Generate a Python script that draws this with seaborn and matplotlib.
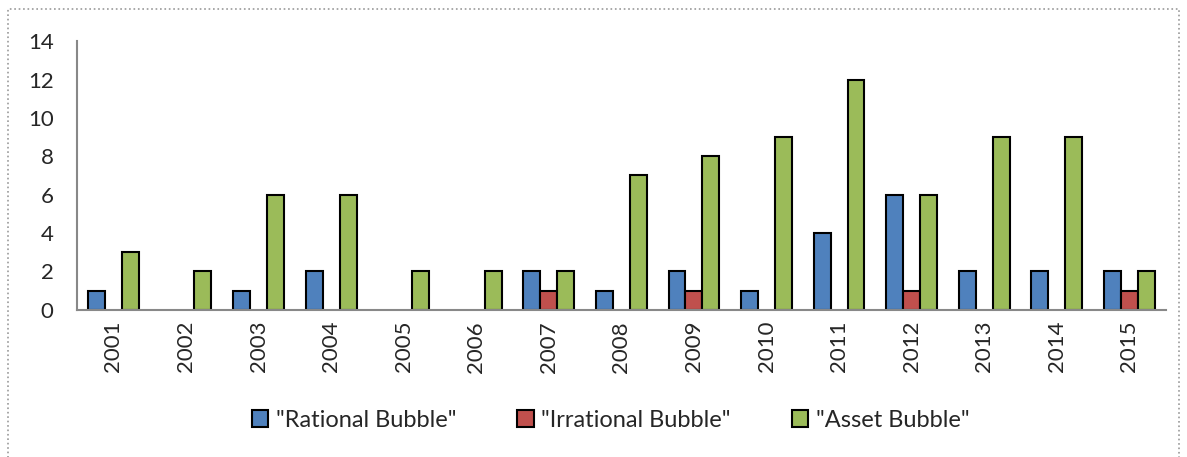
# Grouped bar chart of bubble counts per year.

import seaborn as sns
import matplotlib.pyplot as plt
import pandas as pd
import numpy as np
from matplotlib.patches import Rectangle

years = ['2001', '2002', '2003', '2004', '2005', '2006', '2007', '2008',
         '2009', '2010', '2011', '2012', '2013', '2014', '2015']
rational = [1, 0, 1, 2, 0, 0, 2, 1, 2, 1, 4, 6, 2, 2, 2]
irrational = [0, 0, 0, 0, 0, 0, 1, 0, 1, 0, 0, 1, 0, 0, 1]
asset = [3, 2, 6, 6, 2, 2, 2, 7, 8, 9, 12, 6, 9, 9, 2]
series = ['"Rational Bubble"', '"Irrational Bubble"', '"Asset Bubble"']
colors = ['#4F81BD', '#C0504D', '#9BBB59']

rows = []
for name, vals in zip(series, [rational, irrational, asset]):
    for y, v in zip(years, vals):
        rows.append({'Year': y, 'Series': name, 'Count': v if v else np.nan})
df = pd.DataFrame(rows)

sns.set_style('white')
plt.rcParams['font.family'] = ['Lato', 'DejaVu Sans']

fig = plt.figure(figsize=(11.87, 4.57), dpi=100)
ax = fig.add_axes([0.065, 0.322, 0.917, 0.588])
sns.barplot(data=df, x='Year', y='Count', hue='Series', palette=colors,
            width=0.7, edgecolor='black', linewidth=1.5, saturation=1,
            ax=ax)

ax.set_ylim(0, 14)
ax.set_yticks(range(0, 15, 2))
ax.set_xlim(-0.5, len(years) - 0.5)
ax.set_xlabel('')
ax.set_ylabel('')
ax.tick_params(axis='y', labelsize=16, length=0, pad=17)
ax.tick_params(axis='x', labelsize=16, length=0, rotation=90, pad=8)
for s in ['top', 'right']:
    ax.spines[s].set_visible(False)
for s in ['left', 'bottom']:
    ax.spines[s].set_color('#888888')
    ax.spines[s].set_linewidth(1.5)

ax.legend(loc='center', bbox_to_anchor=(0.49, -0.41), ncol=3,
          frameon=False, fontsize=17, handlelength=0.7, handleheight=0.7,
          columnspacing=2.6, handletextpad=0.3)

fig.patches.append(Rectangle((0.007, -0.02), 0.986, 1.0, transform=fig.transFigure,
                             fill=False, linestyle=':', edgecolor='#999999',
                             linewidth=1.2))

fig.savefig('out.png', dpi=100)
